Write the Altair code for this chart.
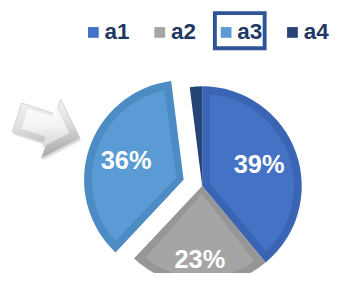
import altair as alt
import pandas as pd

categories = ["a1", "a2", "a3", "a4"]
values = [39, 23, 36, 2]
fill_colors = ["#4472C4", "#A5A5A5", "#5B9BD5", "#264478"]
band_colors = ["#3A65B4", "#969696", "#4D8BC4", "#264478"]

df = pd.DataFrame({"cat": categories, "value": values})

CX, CY, R = 199, 179, 102
BAND = 8

base = (
    alt.Chart(df)
    .transform_joinaggregate(total="sum(value)")
    .transform_window(cum="sum(value)", sort=[alt.SortField("cat")], frame=[None, 0])
    .transform_calculate(t0="(datum.cum - datum.value) / datum.total * 2 * PI")
    .transform_calculate(t1="datum.cum / datum.total * 2 * PI")
    .transform_calculate(mid="(datum.t0 + datum.t1) / 2")
    .transform_calculate(ex="datum.cat == 'a3' ? 20 : 0")
    .transform_calculate(px=f"{CX} + datum.ex * sin(datum.mid)")
    .transform_calculate(py=f"{CY} - datum.ex * cos(datum.mid)")
)

pos = dict(
    theta=alt.Theta("t0:Q", scale=None, stack=None),
    theta2="t1:Q",
    x=alt.X("px:Q", scale=None, axis=None),
    y=alt.Y("py:Q", scale=None, axis=None),
)

outer = base.mark_arc(outerRadius=R).encode(
    color=alt.Color("cat:N", scale=alt.Scale(domain=categories, range=band_colors), legend=None),
    **pos,
)

inner = base.mark_arc(outerRadius=R - BAND, innerRadius=BAND, padAngle=0.17).encode(
    color=alt.Color(
        "cat:N",
        scale=alt.Scale(domain=categories, range=fill_colors),
        legend=alt.Legend(
            orient="none", legendX=76, legendY=10, direction="horizontal", title=None,
            symbolType="square", symbolSize=121, symbolStrokeWidth=0,
            labelFont="Liberation Sans", labelFontWeight="bold", labelFontSize=23,
            labelColor="#1F3864", labelOffset=0, columnPadding=19, padding=0,
        ),
    ),
    **pos,
)

labels = (
    base.transform_filter("datum.cat != 'a4'")
    .transform_calculate(rl="datum.cat == 'a2' ? 76 : 62")
    .transform_calculate(lx="datum.px + datum.rl * sin(datum.mid)")
    .transform_calculate(ly="datum.py - datum.rl * cos(datum.mid)")
    .transform_calculate(label="datum.value + '%'")
    .mark_text(font="Liberation Sans", fontWeight="bold", fontSize=26, color="white",
               align="center", baseline="middle")
    .encode(
        x=alt.X("lx:Q", scale=None, axis=None),
        y=alt.Y("ly:Q", scale=None, axis=None),
        text="label:N",
    )
)

one = pd.DataFrame({"k": [0]})
ARROW = "M -1 -0.46 L 0.08 -0.46 L 0.08 -0.94 L 1 0 L 0.08 0.94 L 0.08 0.46 L -1 0.46 Z"

arrow_shadow = alt.Chart(one).mark_point(
    shape=ARROW, size=4624, angle=18, filled=True, fill="#BDBDBD", opacity=0.45, strokeWidth=0
).encode(x=alt.value(42.5), y=alt.value(122))

arrow = alt.Chart(one).mark_point(
    shape=ARROW, size=4624, angle=18, filled=True, opacity=1,
    fill=alt.Gradient(
        gradient="linear",
        stops=[alt.GradientStop(color="#FAFAFA", offset=0),
               alt.GradientStop(color="#E0E0E0", offset=0.55),
               alt.GradientStop(color="#A9A9A9", offset=1)],
        x1=0, y1=0, x2=0.5, y2=1,
    ),
    stroke="#D0D0D0", strokeWidth=0.8,
).encode(x=alt.value(41.5), y=alt.value(119.5))

arrow_face = alt.Chart(one).mark_point(
    shape=ARROW, size=2300, angle=18, filled=True, opacity=1,
    fill=alt.Gradient(
        gradient="linear",
        stops=[alt.GradientStop(color="#FFFFFF", offset=0),
               alt.GradientStop(color="#F4F4F4", offset=0.6),
               alt.GradientStop(color="#DADADA", offset=1)],
        x1=0, y1=0, x2=0.4, y2=1,
    ),
    strokeWidth=0,
).encode(x=alt.value(40), y=alt.value(117.5))

box = alt.Chart(one).mark_rect(fillOpacity=0, stroke="#2F5597", strokeWidth=4).encode(
    x=alt.value(212), x2=alt.value(263), y=alt.value(2), y2=alt.value(38)
)

chart = (
    alt.layer(arrow_shadow, arrow, arrow_face, outer, inner, labels, box)
    .resolve_scale(color="independent")
    .properties(width=331, height=265, padding=0, autosize="none", background="white")
    .configure_view(stroke=None)
)

chart.save("out.html", embed_options={"renderer": "svg", "actions": False})
